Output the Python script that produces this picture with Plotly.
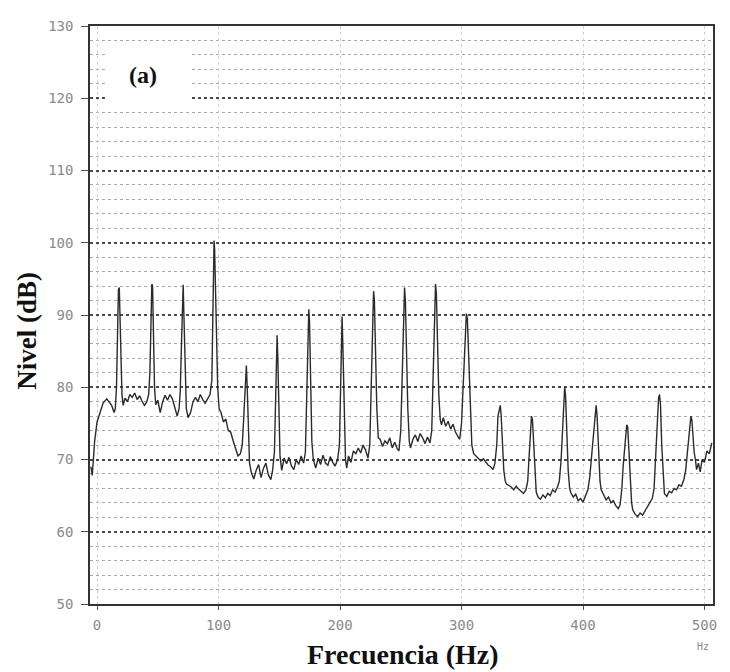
import plotly.graph_objects as go

# ---- data (frequency in Hz, level in dB) ----
freq_hz = [
    -5, -4, -3, -2, 0, 2, 5, 8, 10, 12, 14, 15,
    16, 17, 17.6, 18.3, 19, 19.6, 20.5, 21.5,
    23, 25, 27, 29, 31, 33, 35, 37, 39, 41, 42.5,
    43.5, 44.5, 45.1, 45.7, 46.5, 47.3, 48.3,
    50, 52, 54, 56, 58, 60, 62, 64, 66, 67.5, 68.5,
    69.5, 70.3, 70.9, 71.5, 72.3, 73.5,
    75, 77, 79, 81, 83, 85, 87, 89, 91, 93, 94.5,
    95, 95.8, 96.3, 96.8, 97.5, 98.3, 99.3, 100.5,
    102, 104, 106, 108, 110, 112, 114, 116, 118, 119.5, 120.5,
    121.5, 122.3, 122.9, 123.6, 124.5, 125.5,
    127, 129, 131, 133, 135, 137, 139, 141, 143, 144.5, 146,
    147, 147.7, 148.2, 148.8, 149.6, 150.6,
    152, 154, 156, 158, 160, 162, 164, 166, 168, 170, 171.5,
    172.5, 173.6, 174.3, 174.9, 175.7, 176.8, 178,
    180, 182, 184, 186, 188, 190, 192, 194, 196, 198, 199.5,
    200.5, 201.2, 201.7, 202.3, 203.3, 204.5,
    205.5, 207, 209, 211, 213, 215, 217, 219, 221, 223, 224.5,
    225.5, 226.8, 227.6, 228.3, 229.2, 230.3, 231.5,
    233, 235, 237, 239, 241, 243, 245, 247, 248.5, 250,
    251, 252.3, 253.1, 253.8, 254.7, 255.8, 257,
    258, 260, 262, 264, 266, 268, 270, 272, 274, 275.5,
    276.5, 277.8, 278.6, 279.3, 280.2, 281.3, 282.5,
    283.5, 285, 287, 289, 291, 293, 295, 297, 298.5, 300,
    301.5, 303, 304, 304.8, 305.8, 307, 308.5,
    310, 312, 314, 316, 318, 320, 322, 324, 326, 327.5, 329,
    330, 331.2, 331.9, 332.6, 333.5, 334.8, 336,
    337, 339, 341, 343, 345, 347, 349, 351, 353, 354.5,
    355.5, 356.8, 357.6, 358.4, 359.3, 360.5, 361.5,
    363, 365, 367, 369, 371, 373, 375, 377, 379, 380.5, 382,
    383, 384.2, 384.9, 385.6, 386.5, 387.8, 389,
    390, 392, 394, 396, 398, 400, 402, 404, 405.5,
    407, 408.8, 410, 410.8, 411.6, 412.6, 414,
    415, 417, 419, 421, 423, 425, 427, 429, 430.5, 432,
    433, 434.8, 436, 436.8, 437.6, 438.6, 440,
    441, 443, 445, 447, 449, 451, 453, 455, 457, 458.5,
    459.5, 461, 462.2, 463, 463.8, 464.8, 466,
    467, 469, 471, 473, 475, 477, 479, 481, 483, 484.5,
    486, 487.6, 488.8, 489.6, 490.5, 491.5, 492.5,
    493.5, 495, 496.5, 498, 500, 502, 504, 506,
]

level_db = [
    69, 67.8, 70, 72.5, 75.2, 76.3, 77.8, 78.4, 78, 77.5, 76.5, 77,
    80, 88, 93.5, 93.8, 90, 85, 79, 77.5,
    78.5, 78, 79, 78.6, 79.2, 78.3, 78.8, 78.1, 77.5, 78, 79,
    82, 90, 94.3, 94, 88, 80, 77.6,
    78.2, 76.5, 78, 78.9, 78.2, 79, 78.4, 77.2, 76, 77, 79.5,
    86, 93, 94.2, 90, 83, 77,
    75.8, 76.5, 78, 78.6, 78, 79, 78.3, 77.8, 78.4, 79, 81,
    87, 95, 100.3, 99, 93, 86, 80, 77,
    76.5, 75.2, 75.6, 74, 73.8, 72.6, 71.4, 70.5, 70.8, 72, 75,
    79, 82.8, 83, 80, 74, 69.5,
    68.2, 67.3, 68.5, 69.3, 67.5, 68.8, 69.5, 67.9, 67.2, 68.5, 71,
    78, 86, 87.2, 84, 77, 70.5,
    68.5, 70.2, 69.4, 70.3, 69.1, 68.6, 70, 69.3, 70.5, 69.5, 71,
    78, 86, 90.8, 89, 80, 72.5, 70,
    68.8, 70.2, 69.3, 70.6, 69.5, 69.2, 70.4, 69.6, 69.1, 70, 72,
    80, 88, 89.8, 86, 77, 70,
    68.8, 70.5, 69.6, 71.2, 70.8, 71.6, 70.9, 72, 71.3, 70.2, 72,
    78, 87, 93.3, 92, 85, 77, 73,
    72.8, 71.8, 72.6, 72.2, 73, 71.6, 72.4, 71.5, 71.2, 74,
    80, 88, 93.8, 92, 84, 77, 72.5,
    71.6, 72.8, 73.4, 72.5, 73.6, 73, 72.2, 73.1, 72.3, 74,
    80, 89, 94.3, 93, 86, 79, 75.5,
    74.8, 75.8, 74.6, 75.3, 74.2, 74.9, 73.8, 73.2, 72.8, 75,
    81, 87, 90.2, 89.5, 84, 77, 72,
    70.8, 70.5, 70.2, 69.8, 70.1, 69.6, 69.2, 69, 68.6, 69.5, 72,
    76, 77.3, 77.5, 76.2, 72, 68.5, 67,
    66.6, 66.4, 66.2, 65.8, 66.3, 65.9, 65.6, 65.3, 65.8, 67,
    70, 74, 76, 75.5, 72, 67.5, 65.5,
    64.8, 64.5, 65.1, 64.7, 65.3, 65, 65.8, 65.5, 66.2, 67, 70,
    74, 78.5, 80, 79, 74, 68.5, 66,
    65.4, 64.8, 65.2, 64.3, 64.6, 64.1, 65, 65.8, 67.5,
    70.5, 74.5, 77, 77.5, 76, 71.5, 67,
    65.8, 65.2, 64.4, 64.8, 64, 64.3, 63.6, 63.2, 63.7, 66,
    69, 72.5, 74.8, 74.5, 72, 68, 64,
    63, 62.4, 62.1, 62.6, 62.3, 62.9, 63.4, 64, 64.6, 66,
    70, 75, 78.5, 79, 77.5, 72, 67.5,
    65.3, 64.9, 65.6, 65.4, 66, 65.8, 66.5, 66.3, 67.2, 68.5,
    71, 74, 76, 75.5, 73, 71, 70,
    68.6, 69.5, 68.3, 70, 69.6, 71.2, 70.8, 72.3,
]

x_ticks = [0, 100, 200, 300, 400, 500]
y_ticks = [50, 60, 70, 80, 90, 100, 110, 120, 130]

panel_label = "(a)"
x_title = "Frecuencia (Hz)"
y_title = "Nivel (dB)"
unit_label = "Hz"

fig = go.Figure()
fig.add_trace(go.Scatter(
    x=freq_hz, y=level_db, mode="lines",
    line=dict(color="#2b2b2b", width=1.4),
    showlegend=False, hoverinfo="skip",
))

tick_font = dict(family="DejaVu Sans Mono", size=14, color="#8a8a8a")

# page body keeps an 8px margin, so the figure is 8px smaller on each axis
fig.update_layout(
    width=722, height=664,
    margin=dict(l=82, r=17, t=10, b=68),
    paper_bgcolor="white", plot_bgcolor="white",
    xaxis=dict(
        range=[-5.8, 507], tickvals=x_ticks, ticktext=[str(v) for v in x_ticks],
        showgrid=True, gridcolor="#d2d2d2", griddash="dot", gridwidth=1,
        zeroline=False, showline=True, linecolor="#333", linewidth=1.5, mirror=True,
        ticks="outside", ticklen=4, tickcolor="#555",
        tickfont=tick_font, ticklabelstandoff=3,
    ),
    yaxis=dict(
        range=[50, 130], tickvals=y_ticks, ticktext=[str(v) for v in y_ticks],
        showgrid=True, gridcolor="#4a4a4a", griddash="dot", gridwidth=1.5,
        minor=dict(dtick=2, showgrid=True, gridcolor="#a8a8a8", griddash="dot", gridwidth=1),
        zeroline=False, showline=True, linecolor="#333", linewidth=1.5, mirror=True,
        ticks="outside", ticklen=7, tickcolor="#555",
        tickfont=tick_font, ticklabelstandoff=5,
    ),
)

# white box behind the panel label
fig.add_shape(type="rect", xref="paper", yref="paper",
              x0=0.024, x1=0.161, y0=0.867, y1=0.966,
              fillcolor="white", line=dict(width=0), layer="above")

fig.add_annotation(text="<b>%s</b>" % panel_label, xref="paper", yref="paper",
                   x=0.085, y=0.915, xanchor="center", yanchor="middle", showarrow=False,
                   font=dict(family="Liberation Serif", size=24, color="#111"))
fig.add_annotation(text="<b>%s</b>" % y_title, xref="paper", yref="paper",
                   x=-0.101, y=0.473, xanchor="center", yanchor="middle",
                   textangle=-90, showarrow=False,
                   font=dict(family="Liberation Serif", size=27, color="#111"))
fig.add_annotation(text="<b>%s</b>" % x_title, xref="paper", yref="paper",
                   x=0.502, y=-0.087, xanchor="center", yanchor="middle", showarrow=False,
                   font=dict(family="Liberation Serif", size=28, color="#111"))
fig.add_annotation(text=unit_label, xref="paper", yref="paper",
                   x=0.984, y=-0.073, xanchor="center", yanchor="middle", showarrow=False,
                   font=dict(family="DejaVu Sans Mono", size=10, color="#8a8a8a"))

fig.write_html("out.html")
